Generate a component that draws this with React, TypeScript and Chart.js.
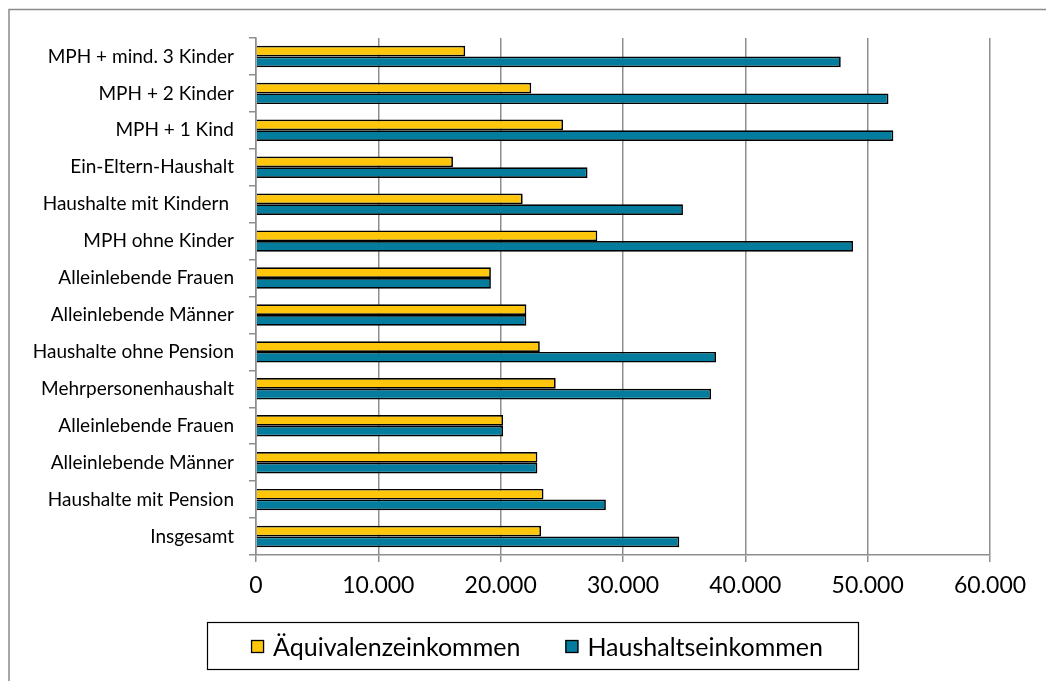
import React, { useEffect, useRef } from "react";
import { Chart, registerables } from "chart.js";

Chart.register(...registerables);

const categories = [
  "MPH + mind. 3 Kinder",
  "MPH + 2 Kinder",
  "MPH + 1 Kind",
  "Ein-Eltern-Haushalt",
  "Haushalte mit Kindern ",
  "MPH ohne Kinder",
  "Alleinlebende Frauen",
  "Alleinlebende Männer",
  "Haushalte ohne Pension",
  "Mehrpersonenhaushalt",
  "Alleinlebende Frauen",
  "Alleinlebende Männer",
  "Haushalte mit Pension",
  "Insgesamt",
];

const aequivalenz = [
  17100, 22500, 25100, 16100, 21800, 27900, 19200, 22100, 23200, 24500, 20200,
  23000, 23500, 23300,
];

const haushalt = [
  47800, 51700, 52100, 27100, 34900, 48800, 19200, 22100, 37600, 37200, 20200,
  23000, 28600, 34600,
];

const seriesNames = ["Äquivalenzeinkommen", "Haushaltseinkommen"];
const seriesColors = ["#FFC60B", "#037C9D"];

const xMin = 0;
const xMax = 60000;
const xStep = 10000;

const FONT = "Lato";

function fmt(v: number) {
  return String(v).replace(/\B(?=(\d{3})+(?!\d))/g, ".");
}

const framePlugin = {
  id: "frame",
  beforeDraw(chart: any) {
    const ctx = chart.ctx;
    ctx.save();
    ctx.strokeStyle = "#8a8a8a";
    ctx.lineWidth = 1.5;
    ctx.beginPath();
    ctx.moveTo(9, 700);
    ctx.lineTo(9, 9.5);
    ctx.lineTo(1060, 9.5);
    ctx.stroke();
    ctx.restore();
  },
};

const legendBoxPlugin = {
  id: "legendBox",
  afterDraw(chart: any) {
    const ctx = chart.ctx;
    const box = { x: 207.5, y: 622.5, w: 651, h: 47 };
    ctx.save();
    ctx.fillStyle = "#ffffff";
    ctx.fillRect(box.x, box.y, box.w, box.h);
    ctx.strokeStyle = "#000000";
    ctx.lineWidth = 1.2;
    ctx.strokeRect(box.x, box.y, box.w, box.h);
    ctx.font = `25px ${FONT}`;
    ctx.textBaseline = "middle";
    ctx.textAlign = "left";
    const sq = 13;
    const gap = 9;
    const spacing = 45;
    const ds = chart.data.datasets;
    const widths = ds.map((d: any) => sq + gap + ctx.measureText(d.label).width);
    const total = widths.reduce((a: number, b: number) => a + b, 0) + spacing * (ds.length - 1);
    let x = 537 - total / 2;
    const cy = 646.5;
    ds.forEach((d: any, i: number) => {
      ctx.fillStyle = d.backgroundColor;
      ctx.fillRect(x, cy - sq / 2, sq, sq);
      ctx.strokeStyle = "#000";
      ctx.lineWidth = 1.3;
      ctx.strokeRect(x + 0.5, cy - sq / 2 + 0.5, sq - 1, sq - 1);
      ctx.fillStyle = "#000";
      ctx.fillText(d.label, x + sq + gap, cy + 1);
      x += widths[i] + spacing;
    });
    ctx.restore();
  },
};

export default function App() {
  const ref = useRef<HTMLCanvasElement | null>(null);

  useEffect(() => {
    if (!ref.current) return;
    const chart = new Chart(ref.current, {
      type: "bar",
      data: {
        labels: categories,
        datasets: [
          {
            label: seriesNames[0],
            data: aequivalenz,
            backgroundColor: seriesColors[0],
            borderColor: "#000000",
            borderWidth: 1.7,
          },
          {
            label: seriesNames[1],
            data: haushalt,
            backgroundColor: seriesColors[1],
            borderColor: "#000000",
            borderWidth: 1.7,
          },
        ],
      },
      options: {
        indexAxis: "y",
        responsive: false,
        maintainAspectRatio: false,
        animation: false,
        datasets: {
          bar: {
            categoryPercentage: 0.58,
            barPercentage: 1,
          },
        },
        layout: {
          padding: { top: 38, right: 56, bottom: 86, left: 0 },
        },
        plugins: {
          legend: { display: false },
          tooltip: { enabled: false },
          title: { display: false },
        },
        scales: {
          x: {
            type: "linear",
            min: xMin,
            max: xMax,
            afterFit: (s: any) => {
              s.height = 40;
            },
            ticks: {
              stepSize: xStep,
              color: "#000",
              font: { family: FONT, size: 23 },
              padding: 10,
              callback: (v: any) => fmt(Number(v)),
            },
            grid: {
              color: "#8e8e8e",
              lineWidth: 1.5,
              drawTicks: true,
              tickLength: 7,
            },
            border: { color: "#8e8e8e", width: 1.5 },
          },
          y: {
            type: "category",
            afterFit: (s: any) => {
              s.width = 256;
            },
            ticks: {
              color: "#000",
              font: { family: FONT, size: 19 },
              padding: 15,
              autoSkip: false,
            },
            grid: {
              offset: true,
              drawOnChartArea: false,
              drawTicks: true,
              tickLength: 7,
              color: "#8e8e8e",
              lineWidth: 1.5,
            },
            border: { color: "#8e8e8e", width: 1.5 },
          },
        },
      },
      plugins: [framePlugin, legendBoxPlugin],
    });
    return () => chart.destroy();
  }, []);

  return (
    <div style={{ position: "fixed", left: 0, top: 0, width: 1046, height: 681, background: "#fff" }}>
      <canvas ref={ref} width={1046} height={681} style={{ display: "block" }} />
    </div>
  );
}
